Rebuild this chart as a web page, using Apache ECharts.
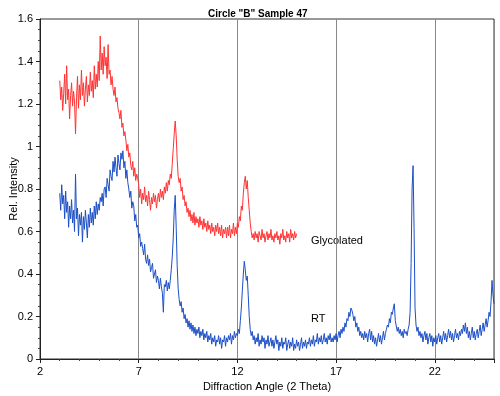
<!DOCTYPE html>
<html>
<head>
<meta charset="utf-8">
<script src="https://cdn.jsdelivr.net/npm/echarts@6/dist/echarts.min.js"></script>
<style>
html,body{margin:0;padding:0;background:#fff;}
#chart{width:500px;height:396px;}
</style>
</head>
<body>
<div id="chart"></div>
<script>
// Sampling grid of the diffractometer scans (degrees 2-theta)
const glyStart = 3.0;
const rtStart = 3.0;
const stepDeg = 0.05;

// Glycolated (red), 3.00 .. 15.00, rows of 10 values (0.5 deg per row)
const glycolated = [
  1.31,1.22,1.28,1.17,1.25,1.34,1.20,1.38,1.22,1.27,
  1.13,1.24,1.30,1.19,1.26,1.21,1.06,1.23,1.33,1.18,
  1.29,1.22,1.36,1.24,1.30,1.19,1.27,1.33,1.21,1.29,
  1.24,1.35,1.26,1.31,1.23,1.38,1.27,1.34,1.28,1.40,
  1.31,1.52,1.36,1.44,1.34,1.47,1.38,1.42,1.32,1.48,
  1.34,1.36,1.29,1.33,1.27,1.24,1.28,1.21,1.23,1.18,
  1.16,1.13,1.17,1.09,1.11,1.05,1.07,1.03,0.98,1.01,
  0.95,0.97,0.91,0.89,0.93,0.86,0.90,0.84,0.87,0.85,
  0.82,0.76,0.80,0.73,0.78,0.75,0.81,0.74,0.77,0.72,
  0.79,0.75,0.70,0.76,0.73,0.78,0.74,0.77,0.71,0.75,
  0.78,0.74,0.80,0.76,0.79,0.75,0.81,0.78,0.83,0.79,
  0.84,0.82,0.87,0.85,0.92,0.99,1.06,1.12,1.05,0.94,
  0.86,0.83,0.85,0.79,0.81,0.75,0.77,0.72,0.74,0.69,
  0.71,0.67,0.70,0.65,0.68,0.64,0.69,0.63,0.67,0.64,
  0.66,0.62,0.67,0.63,0.65,0.61,0.66,0.62,0.64,0.60,
  0.65,0.61,0.63,0.59,0.64,0.60,0.62,0.58,0.63,0.60,
  0.64,0.59,0.62,0.58,0.63,0.57,0.61,0.59,0.62,0.57,
  0.62,0.58,0.63,0.57,0.61,0.59,0.64,0.58,0.62,0.59,
  0.64,0.62,0.67,0.65,0.72,0.70,0.78,0.83,0.86,0.80,
  0.84,0.76,0.70,0.64,0.60,0.57,0.59,0.56,0.60,0.57,
  0.59,0.55,0.60,0.58,0.56,0.61,0.57,0.59,0.55,0.58,
  0.60,0.56,0.59,0.57,0.61,0.56,0.58,0.55,0.59,0.57,
  0.60,0.56,0.58,0.54,0.59,0.57,0.61,0.56,0.58,0.55,
  0.60,0.57,0.59,0.55,0.61,0.57,0.59,0.56,0.60,0.57,
  0.59
];

// RT (blue), 3.00 .. 25.00, rows of 10 values (0.5 deg per row)
const rt = [
  0.78,0.70,0.82,0.73,0.77,0.66,0.79,0.69,0.74,0.62,
  0.72,0.66,0.75,0.64,0.70,0.60,0.87,0.66,0.71,0.58,
  0.68,0.63,0.69,0.55,0.67,0.61,0.70,0.64,0.57,0.68,
  0.62,0.71,0.64,0.69,0.63,0.72,0.66,0.74,0.68,0.73,
  0.70,0.76,0.74,0.78,0.72,0.80,0.81,0.76,0.85,0.82,
  0.79,0.89,0.86,0.84,0.93,0.88,0.95,0.90,0.86,0.96,
  0.92,0.89,0.97,0.94,0.98,0.90,0.93,0.85,0.89,0.83,
  0.80,0.76,0.79,0.71,0.74,0.72,0.65,0.68,0.62,0.63,
  0.57,0.59,0.53,0.55,0.52,0.49,0.54,0.47,0.45,0.49,
  0.44,0.47,0.41,0.43,0.45,0.38,0.40,0.42,0.36,0.39,
  0.37,0.33,0.38,0.34,0.31,0.22,0.35,0.34,0.37,0.32,
  0.36,0.33,0.37,0.42,0.48,0.57,0.70,0.77,0.62,0.44,
  0.33,0.28,0.25,0.27,0.22,0.24,0.19,0.21,0.17,0.19,
  0.15,0.18,0.14,0.17,0.13,0.16,0.12,0.15,0.11,0.14,
  0.12,0.15,0.10,0.13,0.11,0.14,0.09,0.12,0.10,0.13,
  0.08,0.11,0.09,0.12,0.07,0.10,0.08,0.11,0.06,0.09,
  0.08,0.11,0.07,0.10,0.05,0.09,0.08,0.11,0.06,0.10,
  0.08,0.11,0.09,0.12,0.07,0.11,0.09,0.13,0.10,0.12,
  0.11,0.14,0.12,0.18,0.24,0.32,0.40,0.46,0.42,0.37,
  0.39,0.30,0.20,0.14,0.11,0.13,0.09,0.11,0.07,0.10,
  0.08,0.12,0.06,0.09,0.07,0.11,0.08,0.10,0.05,0.09,
  0.07,0.11,0.06,0.08,0.10,0.06,0.09,0.05,0.08,0.11,
  0.07,0.09,0.04,0.08,0.06,0.10,0.05,0.08,0.07,0.10,
  0.04,0.07,0.09,0.05,0.08,0.06,0.10,0.04,0.07,0.05,
  0.09,0.06,0.08,0.04,0.07,0.10,0.05,0.08,0.06,0.09,
  0.05,0.08,0.07,0.10,0.06,0.09,0.07,0.11,0.06,0.09,
  0.08,0.12,0.07,0.10,0.08,0.11,0.07,0.09,0.12,0.08,
  0.10,0.07,0.11,0.09,0.12,0.08,0.10,0.08,0.11,0.09,
  0.12,0.08,0.11,0.13,0.10,0.14,0.12,0.15,0.13,0.17,
  0.15,0.19,0.18,0.22,0.20,0.24,0.23,0.21,0.18,0.20,
  0.15,0.17,0.13,0.15,0.11,0.13,0.10,0.12,0.09,0.13,
  0.10,0.12,0.08,0.12,0.14,0.09,0.13,0.08,0.11,0.07,
  0.10,0.06,0.09,0.12,0.08,0.11,0.07,0.10,0.13,0.09,
  0.12,0.14,0.16,0.15,0.19,0.17,0.22,0.21,0.24,0.26,
  0.18,0.18,0.13,0.15,0.12,0.14,0.11,0.13,0.10,0.14,
  0.12,0.13,0.11,0.14,0.16,0.22,0.45,0.80,0.91,0.62,
  0.24,0.16,0.13,0.15,0.11,0.13,0.10,0.12,0.08,0.11,
  0.13,0.09,0.12,0.07,0.10,0.12,0.08,0.11,0.06,0.10,
  0.08,0.11,0.07,0.10,0.12,0.08,0.11,0.07,0.10,0.13,
  0.09,0.12,0.08,0.11,0.14,0.10,0.13,0.09,0.12,0.08,
  0.11,0.14,0.10,0.12,0.09,0.13,0.11,0.14,0.12,0.16,
  0.13,0.17,0.12,0.15,0.10,0.13,0.09,0.12,0.15,0.10,
  0.13,0.09,0.12,0.14,0.10,0.13,0.16,0.11,0.14,0.17,
  0.13,0.16,0.19,0.15,0.18,0.22,0.20,0.27,0.37,0.30,
  0.26
];

const xTicks = [2, 7, 12, 17, 22];
const yTicks = [0, 0.2, 0.4, 0.6, 0.8, 1, 1.2, 1.4, 1.6];
const titleText = 'Circle "B" Sample 47';
const xName = 'Diffraction Angle (2 Theta)';
const yName = 'Rel. Intensity';
const seriesNames = ['Glycolated', 'RT'];

function toPairs(start, vals) {
  return vals.map((v, i) => [+(start + i * stepDeg).toFixed(2), v]);
}

const FONT = '"Liberation Sans", Arial, sans-serif';
const chart = echarts.init(document.getElementById('chart'), null, {renderer: 'canvas'});
const option = {
  backgroundColor: '#fff',
  animation: false,
  textStyle: {fontFamily: FONT},
  title: {
    text: titleText, left: 203, top: 4,
    textStyle: {fontSize: 10, fontWeight: 'bold', color: '#000', fontFamily: FONT}
  },
  grid: {left: 40, right: 6, top: 19, bottom: 37, containLabel: false, outerBoundsMode: 'none',
    show: true, borderColor: '#333', borderWidth: 1, backgroundColor: 'transparent'},
  xAxis: {
    type: 'value', min: xTicks[0], max: 25, interval: xTicks[1] - xTicks[0],
    name: xName, nameLocation: 'middle', nameGap: 20,
    nameTextStyle: {fontSize: 11, color: '#000', fontFamily: FONT},
    axisLine: {show: true, lineStyle: {color: '#222', width: 1}},
    axisTick: {show: true, length: 4, lineStyle: {color: '#222'}},
    minorTick: {show: true, splitNumber: 5, length: 2, lineStyle: {color: '#444'}},
    axisLabel: {fontSize: 11, color: '#000', margin: 7, showMaxLabel: false,
      formatter: v => xTicks.indexOf(v) >= 0 ? String(v) : ''},
    splitLine: {show: true, lineStyle: {color: '#888', width: 1}}
  },
  yAxis: {
    type: 'value', min: yTicks[0], max: yTicks[yTicks.length - 1], interval: yTicks[1] - yTicks[0],
    name: yName, nameLocation: 'middle', nameGap: 21, nameRotate: 90, nameMoveOverlap: false,
    nameTextStyle: {fontSize: 11, color: '#000', fontFamily: FONT},
    axisLine: {show: true, lineStyle: {color: '#222', width: 1}},
    axisTick: {show: true, length: 4, lineStyle: {color: '#222'}},
    minorTick: {show: true, splitNumber: 4, length: 2, lineStyle: {color: '#444'}},
    axisLabel: {fontSize: 11, color: '#000', margin: 7},
    splitLine: {show: false}
  },
  series: [
    {
      name: seriesNames[0], type: 'line', showSymbol: false, symbol: 'none',
      sampling: null, lineStyle: {color: '#ff3333', width: 1}, z: 2,
      data: toPairs(glyStart, glycolated)
    },
    {
      name: seriesNames[1], type: 'line', showSymbol: false, symbol: 'none',
      sampling: null, lineStyle: {color: '#1c4fc6', width: 1}, z: 3,
      data: toPairs(rtStart, rt)
    }
  ],
  graphic: [
    {type: 'text', left: 311, top: 235, style: {text: seriesNames[0], fill: '#000', font: '11px ' + FONT}},
    {type: 'text', left: 311, top: 313, style: {text: seriesNames[1], fill: '#000', font: '11px ' + FONT}}
  ]
};
chart.setOption(option);
</script>
</body>
</html>
